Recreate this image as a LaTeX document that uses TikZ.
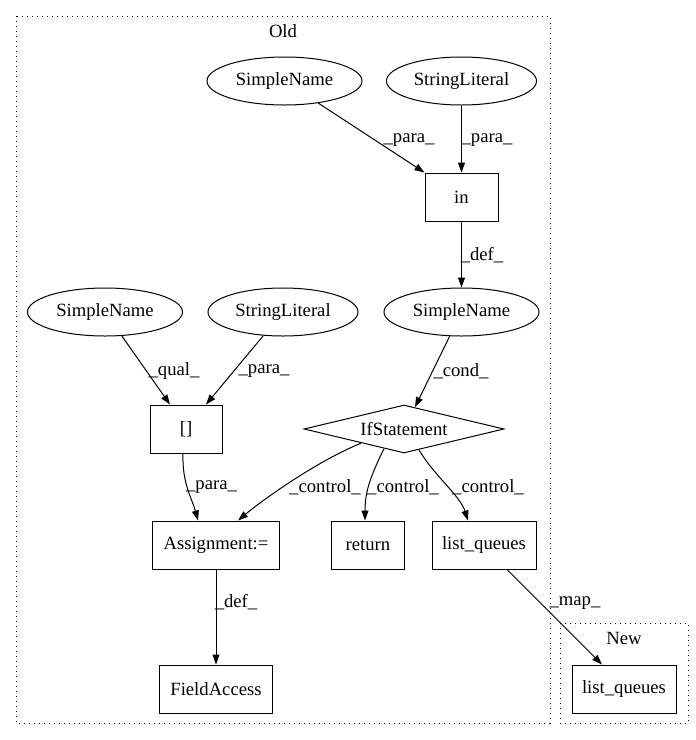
\documentclass[tikz,border=0pt]{standalone}
\usepackage{fontspec}
\setmainfont{Liberation Serif}
\usetikzlibrary{arrows.meta,shapes.geometric,calc}
\begin{document}
\begin{tikzpicture}[x=0.75pt,y=-0.75pt,
  font=\fontsize{14}{16}\selectfont,
  every node/.style={inner sep=0pt},
  boxnode/.style={draw,line width=0.75pt,rectangle,minimum height=36pt},
  ellnode/.style={draw,line width=0.75pt,ellipse,minimum height=36pt},
  ifnode/.style={draw,line width=0.75pt,diamond,aspect=4.2,minimum width=150pt,minimum height=36pt},
  edge/.style={draw,line width=0.75pt,-{Triangle[length=7.5pt,width=5.25pt]}},
  clusterline/.style={line width=0.75pt,dash pattern=on 0.75pt off 3pt},
  lab/.style={}]
\useasboundingbox (0,0) rectangle (696,740);
% clusters
\draw[clusterline] (16,16) rectangle (550,723);
\node (oldlab) at (283,31) {Old};
\draw[clusterline] (560,623) rectangle (688,723);
\node (newlab) at (624,638) {New};
% nodes
\node[ellnode,minimum width=116.25pt] (sn1) at (284.5,81) {SimpleName};
\node[ellnode,minimum width=112.5pt] (sl1) at (461.5,81) {StringLiteral};
\node[boxnode,minimum width=54.75pt] (in) at (461.5,197) {in};
\node[ellnode,minimum width=116.25pt] (sn2) at (461.5,312) {SimpleName};
\node[ellnode,minimum width=116.25pt] (sn3) at (105,312) {SimpleName};
\node[ellnode,minimum width=112.5pt] (sl2) at (283,312) {StringLiteral};
\node[boxnode,minimum width=54pt] (br) at (186,429) {[]};
\node[ifnode] (if) at (404,429) {IfStatement};
\node[boxnode,minimum width=95.25pt] (asg) at (216,545) {Assignment:=};
\node[boxnode,minimum width=54.75pt] (ret) at (368,545) {return};
\node[boxnode,minimum width=78pt] (lq) at (484,545) {list\_queues};
\node[boxnode,minimum width=84.75pt] (fa) at (216,689) {FieldAccess};
\node[boxnode,minimum width=78pt] (lqn) at (624,689) {list\_queues};
% edges
\draw[edge] (sn1) -- (in.north west);
\draw[edge] (sl1) -- (in);
\draw[edge] (in) -- (sn2);
\draw[edge] (sn3) -- ($(br.north)+(-16,0)$);
\draw[edge] (sl2) -- ($(br.north)+(20,0)$);
\draw[edge] (sn2) -- ($(if.north)+(11,2.6)$);
\draw[edge] ($(br.south)+(-3,0)$) .. controls ($(br.south)+(-4,30)$) and ($(asg.north)+(-24,-22)$) .. ($(asg.north)+(-18,0)$);
\draw[edge] ($(if.south)+(-43,-10.3)$) .. controls ($(if.south)+(-88,8)$) and ($(asg.north)+(46,-20)$) .. ($(asg.north)+(22,0)$);
\draw[edge] ($(if.south)+(-20,-4.8)$) .. controls ($(if.south)+(-33,22)$) and ($(ret.north)+(-3,-30)$) .. ($(ret.north)+(-3,0)$);
\draw[edge] ($(if.south)+(15,-3.6)$) .. controls ($(if.south)+(30,22)$) and ($(lq.north)+(-24,-25)$) .. ($(lq.north)+(-16,0)$);
\draw[edge] (asg) -- (fa);
\draw[edge] ($(lq.south)+(23,0)$) -- ($(lqn.north)+(-22,0)$);
% labels
\node[lab] (l1) at (409,140) {\_para\_};
\node[lab] (l2) at (487,140) {\_para\_};
\node[lab] (l3) at (482,255) {\_def\_};
\node[lab] (l4) at (174,371) {\_qual\_};
\node[lab] (l5) at (264,371) {\_para\_};
\node[lab] (l6) at (461,371) {\_cond\_};
\node[lab] (l7) at (211.5,487) {\_para\_};
\node[lab] (l8) at (325,487) {\_control\_};
\node[lab] (l9) at (403,487) {\_control\_};
\node[lab] (l10) at (488,487) {\_control\_};
\node[lab] (l11) at (236,602) {\_def\_};
\node[lab] (l12) at (575,603) {\_map\_};
\end{tikzpicture}
\end{document}
